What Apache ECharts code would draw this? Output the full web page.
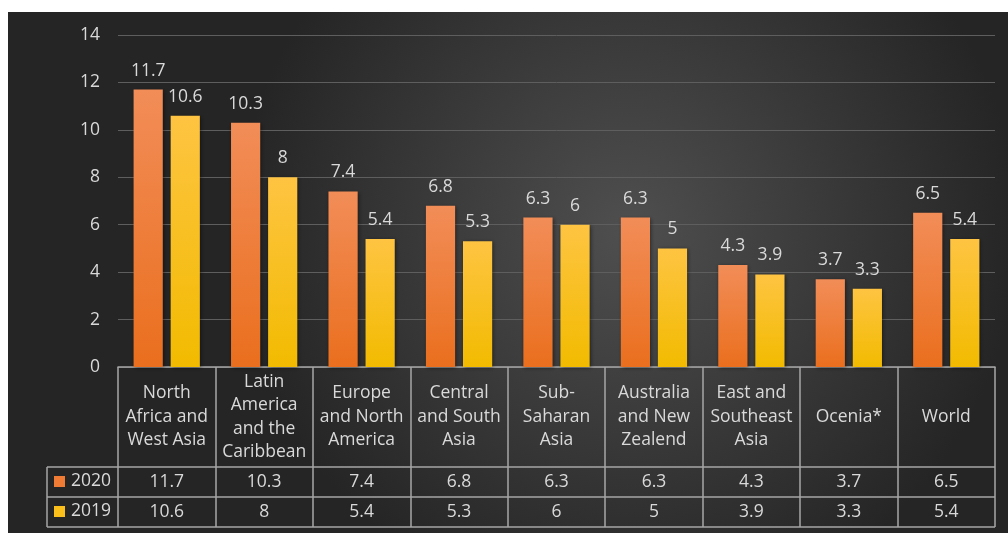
<!DOCTYPE html>
<html><head><meta charset="utf-8">
<script src="https://cdn.jsdelivr.net/npm/echarts@6/dist/echarts.min.js"></script>
<style>html,body{margin:0;padding:0;background:#fff;}#c{width:1008px;height:533px;}</style>
</head><body><div id="c"></div>
<script>
const categories = ["North\nAfrica and\nWest Asia","Latin\nAmerica\nand the\nCaribbean","Europe\nand North\nAmerica","Central\nand South\nAsia","Sub-\nSaharan\nAsia","Australia\nand New\nZealend","East and\nSoutheast\nAsia","Ocenia*","World"];
const values2020 = [11.7,10.3,7.4,6.8,6.3,6.3,4.3,3.7,6.5];
const values2019 = [10.6,8,5.4,5.3,6,5,3.9,3.3,5.4];
const yTicks = [0,2,4,6,8,10,12,14];

const FONT = 'Open Sans';
const FS = 17.5;
const TXT = '#d9d9d9';
const BORDER = '#a6a6a6';
const LEFT = 118, RIGHT = 13, TOP = 35, BOTTOM = 166;
const W = 1008, H = 533;

const chart = echarts.init(document.getElementById('c'), null, {renderer:'canvas'});

const grad2020 = new echarts.graphic.LinearGradient(0,0,0,1,[{offset:0,color:'#f28d58'},{offset:1,color:'#ea6f1e'}]);
const grad2019 = new echarts.graphic.LinearGradient(0,0,0,1,[{offset:0,color:'#fec442'},{offset:1,color:'#f2bb00'}]);

const tableTop = H - BOTTOM;
const option = {
  animation:false,
  textStyle:{fontFamily:FONT},
  grid:{left:LEFT,right:RIGHT,top:TOP,bottom:BOTTOM},
  legend:{
    orient:'vertical', left:54, top:tableTop+103, itemGap:7, itemWidth:11, itemHeight:11,
    icon:'rect', padding:0,
    textStyle:{color:TXT,fontSize:FS,fontFamily:FONT,lineHeight:23,padding:[0,0,0,1]},
    data:[{name:'2020',itemStyle:{color:'#ef7b35'}},{name:'2019',itemStyle:{color:'#fbbf1c'}}]
  },
  xAxis:[
    {type:'category',data:categories,position:'bottom',
     axisLine:{show:true,lineStyle:{color:BORDER,width:1.5}},
     axisTick:{show:true,length:160,lineStyle:{color:BORDER,width:1.5}},
     axisLabel:{interval:0,color:TXT,fontSize:FS,lineHeight:23.5,margin:50,verticalAlign:'middle',fontFamily:FONT}},
    {type:'category',data:values2020.map(String),position:'bottom',offset:100,
     axisLine:{show:false},axisTick:{show:false},
     axisLabel:{interval:0,color:TXT,fontSize:FS,margin:15,verticalAlign:'middle',fontFamily:FONT}},
    {type:'category',data:values2019.map(String),position:'bottom',offset:130,
     axisLine:{show:false},axisTick:{show:false},
     axisLabel:{interval:0,color:TXT,fontSize:FS,margin:15,verticalAlign:'middle',fontFamily:FONT}}
  ],
  yAxis:{type:'value',min:yTicks[0],max:yTicks[yTicks.length-1],interval:2,
    axisLine:{show:false},axisTick:{show:false},
    axisLabel:{color:TXT,fontSize:FS,margin:18,fontFamily:FONT},
    splitLine:{lineStyle:{color:'#5e5e5e',width:1}}},
  series:[
    {name:'2020',type:'bar',data:values2020,barGap:'27%',barCategoryGap:'32%',
     itemStyle:{color:grad2020,shadowColor:'rgba(0,0,0,0.45)',shadowBlur:4,shadowOffsetX:1,shadowOffsetY:1},
     label:{show:true,position:'top',distance:10,color:TXT,fontSize:FS,fontFamily:FONT}},
    {name:'2019',type:'bar',data:values2019,
     itemStyle:{color:grad2019,shadowColor:'rgba(0,0,0,0.45)',shadowBlur:4,shadowOffsetX:1,shadowOffsetY:1},
     label:{show:true,position:'top',distance:10,color:TXT,fontSize:FS,fontFamily:FONT}}
  ],
  graphic:[]
};
chart.setOption(option);

const y0 = chart.convertToPixel({yAxisIndex:0}, 0);
const xR = W - RIGHT;
const tblLeft = 47;
const lines = [];
[100,130,160].forEach(function(d){
  lines.push({type:'line',silent:true,z:10,shape:{x1:tblLeft,y1:y0+d,x2:xR,y2:y0+d},style:{stroke:BORDER,lineWidth:1.5}});
});
lines.push({type:'line',silent:true,z:10,shape:{x1:tblLeft,y1:y0+100,x2:tblLeft,y2:y0+160},style:{stroke:BORDER,lineWidth:1.5}});
lines.push({type:'rect',silent:true,z:-100,shape:{x:8,y:12,width:W-8,height:H-12},
  style:{fill:new echarts.graphic.RadialGradient(0.62,0.42,0.75,[{offset:0,color:'#4f4f4f'},{offset:1,color:'#252525'}])}});
chart.setOption({graphic:lines});
</script></body></html>
